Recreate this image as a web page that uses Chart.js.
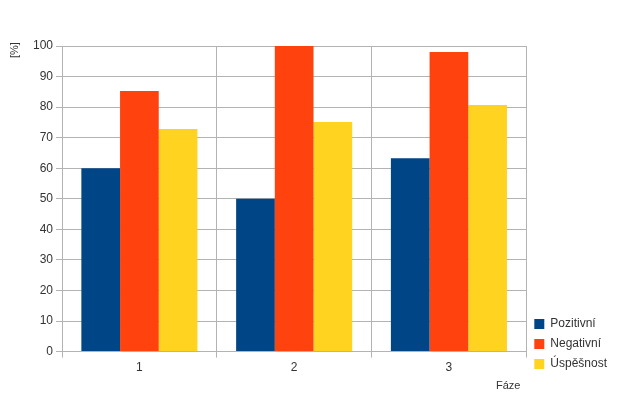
<!DOCTYPE html>
<html>
<head>
<meta charset="utf-8">
<script src="https://cdn.jsdelivr.net/npm/chart.js@4"></script>
<style>body{margin:0;background:#fff}</style>
</head>
<body>
<canvas id="graf" width="639" height="402"></canvas>
<script>
const faze = ['1', '2', '3'];
const pozitivni = [60, 50, 63.3];
const negativni = [85.3, 100, 98];
const uspesnost = [72.8, 75.1, 80.7];

// popisky os kreslime rucne, legendu posuneme nahoru
const popisky = {
    id: 'popisky',
    afterLayout(c) {
        c.legend.legendHitBoxes.forEach(b => { b.top -= 26; });
    },
    afterDraw(c) {
        const ctx = c.ctx;
        ctx.save();
        ctx.fillStyle = '#333';
        ctx.font = '11px "Liberation Sans"';
        ctx.translate(18, 58);
        ctx.rotate(-Math.PI / 2);
        ctx.fillText('[%]', 0, 0);
        ctx.restore();
        ctx.save();
        ctx.fillStyle = '#333';
        ctx.font = '11px "Liberation Sans"';
        ctx.fillText('Fáze', 496, 389);
        ctx.restore();
    }
};

let ctx = document.getElementById("graf").getContext("2d");
new Chart(ctx, {
    type: "bar",
    data: {
        labels: faze,
        datasets: [
            {label: 'Pozitivní', data: pozitivni, backgroundColor: '#004586'},
            {label: 'Negativní', data: negativni, backgroundColor: '#ff420e'},
            {label: 'Úspěšnost', data: uspesnost, backgroundColor: '#ffd320'}
        ]
    },
    options: {
        responsive: false,
        animation: false,
        layout: {padding: {left: 30, top: 46, right: 22, bottom: 24}},
        datasets: {bar: {categoryPercentage: 0.75, barPercentage: 1}},
        plugins: {
            legend: {
                position: 'right',
                align: 'end',
                labels: {boxWidth: 10, boxHeight: 10, font: {size: 12, family: 'Liberation Sans'}, color: '#333', padding: 8}
            },
            tooltip: {enabled: false}
        },
        scales: {
            x: {
                grid: {color: '#b3b3b3', offset: true, tickLength: 6},
                border: {color: '#b3b3b3'},
                ticks: {color: '#333', font: {size: 12, family: 'Liberation Sans'}}
            },
            y: {
                min: 0, max: 100,
                grid: {color: '#b3b3b3', tickLength: 6},
                border: {color: '#b3b3b3'},
                ticks: {stepSize: 10, color: '#333', font: {size: 12, family: 'Liberation Sans'}}
            }
        }
    },
    plugins: [popisky]
});
</script>
</body>
</html>
